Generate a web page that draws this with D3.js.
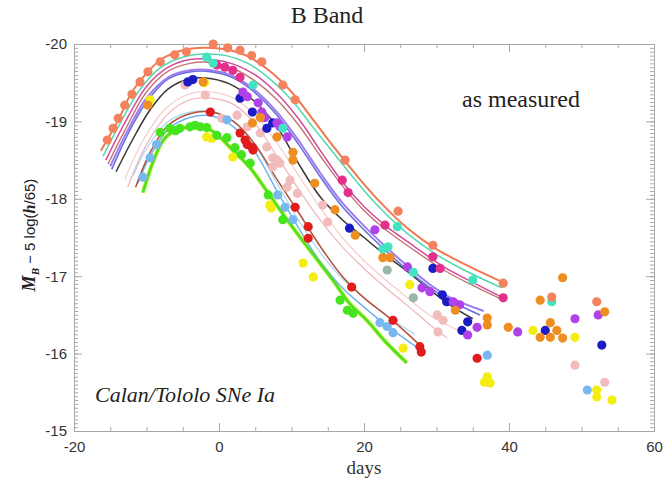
<!DOCTYPE html>
<html><head><meta charset="utf-8">
<script src="https://cdn.jsdelivr.net/npm/d3@7"></script>
<style>body{margin:0;background:#fff}</style>
</head><body><svg id="c" width="665" height="480"></svg>
<script>
// ---------- data ----------
const xTicks = [-20, 0, 20, 40, 60];
const yTicks = [-20, -19, -18, -17, -16, -15];

const curveCoral = [[-16.3,-18.62],[-14,-19.0],[-12,-19.38],[-10,-19.62],[-8,-19.8],[-5,-19.92],[-2,-19.95],[1,-19.93],[4,-19.84],[7,-19.65],[10,-19.38],[13,-19.02],[16,-18.65],[19,-18.3],[22,-17.98],[26,-17.62],[30,-17.35],[34,-17.15],[39.2,-16.92]];
const curveAqua = [[-16,-18.55],[-13.5,-19.0],[-11,-19.4],[-8,-19.7],[-5,-19.83],[-2,-19.87],[1,-19.85],[4,-19.75],[7,-19.55],[10,-19.28],[13,-18.92],[16,-18.57],[19,-18.22],[22,-17.9],[26,-17.55],[30,-17.28],[34,-17.07],[39,-16.85]];
const curveMagenta = [[-15.6,-18.5],[-13,-18.98],[-10,-19.45],[-7,-19.7],[-4,-19.8],[-1,-19.8],[2,-19.74],[5,-19.6],[8,-19.36],[11,-19.03],[14,-18.62],[17,-18.22],[20,-17.9],[23,-17.65],[27,-17.38],[31,-17.12],[35,-16.92],[39.2,-16.72]];
const curveRosy = [[-15.3,-18.45],[-13,-18.88],[-10,-19.38],[-7,-19.65],[-4,-19.75],[-1,-19.76],[2,-19.68],[5,-19.52],[8,-19.28],[11,-18.95],[14,-18.55],[17,-18.17],[20,-17.85],[23,-17.6],[27,-17.33],[31,-17.08],[35,-16.88],[39,-16.7]];
const curveViolet = [[-15,-18.42],[-12.5,-18.9],[-10,-19.3],[-7,-19.57],[-4,-19.66],[-1,-19.66],[2,-19.58],[5,-19.4],[8,-19.12],[11,-18.75],[14,-18.33],[17,-17.95],[20,-17.65],[23,-17.38],[26,-17.13],[29,-16.9],[32,-16.72],[36.5,-16.55]];
const curveBlue = [[-14.8,-18.38],[-12.5,-18.85],[-10,-19.25],[-7,-19.55],[-4,-19.64],[-1,-19.64],[2,-19.56],[5,-19.37],[8,-19.08],[11,-18.7],[14,-18.28],[17,-17.9],[20,-17.6],[23,-17.33],[26,-17.08],[29,-16.86],[32,-16.68],[36,-16.5]];
const curveDark = [[-14.2,-18.35],[-12,-18.75],[-9.5,-19.15],[-7,-19.42],[-4,-19.55],[-1,-19.55],[2,-19.46],[5,-19.25],[8,-18.93],[11,-18.45],[14,-18.02],[17,-17.73],[20,-17.5],[23,-17.27],[26,-17.06],[29,-16.83],[32,-16.62],[35,-16.45]];
const curvePale = [[-13,-18.25],[-10.5,-18.75],[-7.5,-19.15],[-4,-19.36],[-1,-19.38],[2,-19.3],[5,-19.08],[8,-18.72],[11,-18.3],[14,-17.88],[17,-17.5],[20,-17.2],[23,-16.95],[26,-16.72],[29,-16.5],[33,-16.3]];
const curveLightPink = [[-12.6,-18.15],[-10,-18.7],[-7,-19.1],[-4,-19.28],[-1,-19.3],[2,-19.22],[5,-18.97],[8,-18.55],[11,-18.12],[14,-17.72],[17,-17.38],[20,-17.1],[23,-16.85],[26,-16.62],[29,-16.38],[31.5,-16.2]];
const curveBrownRed = [[-11.5,-18.15],[-9.5,-18.6],[-7,-18.95],[-4,-19.1],[-1,-19.12],[2,-19.0],[5,-18.7],[8,-18.25],[11,-17.82],[14,-17.38],[17,-17.0],[20,-16.72],[23,-16.5],[25.5,-16.3],[28,-16.08]];
const curveCyan = [[-11.8,-18.3],[-10,-18.65],[-7,-19.0],[-4,-19.12],[-1,-19.13],[2,-19.0],[5,-18.68],[8,-18.2],[11,-17.72],[14,-17.3],[17,-16.97],[20,-16.72],[23,-16.5],[27,-16.25]];
const curveLightBlue = [[-11.2,-18.2],[-9.5,-18.55],[-7,-18.9],[-4,-19.05],[-1,-19.07],[2,-18.93],[5,-18.6],[8,-18.1],[11,-17.62],[14,-17.18],[17,-16.85],[20,-16.6],[23,-16.37],[27.3,-16.08]];
const curveGreen = [[-10.5,-18.08],[-9,-18.5],[-7.5,-18.78],[-5.5,-18.9],[-3,-18.93],[-1,-18.88],[1.9,-18.63],[4.3,-18.4],[6.6,-18.1],[9,-17.78],[11.2,-17.5],[13.5,-17.22],[15.7,-16.95],[18,-16.65],[20.4,-16.43],[23,-16.15],[25.9,-15.88]];

const dotsCoral = [[-15.4,-18.76],[-14.6,-18.91],[-13.9,-19.04],[-13.0,-19.21],[-12.0,-19.35],[-10.9,-19.51],[-9.8,-19.64],[-8.1,-19.77],[-6.1,-19.86],[-4.5,-19.9],[-0.8,-20.0],[1.2,-19.95],[2.9,-19.92],[4.5,-19.85],[5.9,-19.77],[8.8,-19.47],[10.5,-19.28],[17.4,-18.5],[24.7,-17.84],[29.5,-17.4],[39.2,-16.91],[45.9,-16.73],[52.1,-16.67]];
const dotsOrange = [[-9.8,-19.21],[-2.2,-19.51],[4.6,-18.98],[5.7,-19.05],[8,-18.8],[10.2,-18.6],[10.2,-18.5],[13.2,-18.2],[16,-17.86],[18.8,-17.53],[22.6,-17.24],[23.6,-17.24],[32.6,-16.56],[37,-16.46],[37,-16.37],[39.9,-16.34],[44.3,-16.69],[45.7,-16.4],[46.6,-16.3],[47.4,-16.2],[45.7,-16.21],[44.3,-16.21],[47.4,-16.98],[53.2,-16.54]];
const dotsMagenta = [[-0.3,-19.73],[0.8,-19.7],[1.9,-19.66],[2.9,-19.57],[17,-18.24],[17.8,-18.08],[22.9,-17.66],[29.5,-17.25],[30.5,-17.1],[39.2,-16.72]];
const dotsPurple = [[3.3,-19.38],[3.9,-19.32],[5.4,-19.24],[5.9,-19.12],[6.3,-19.05],[8,-18.98],[8.4,-18.93],[9.4,-18.8],[21.5,-17.6],[26,-17.12],[28,-16.85],[29.1,-16.8],[32.3,-16.67],[33.2,-16.63],[34.3,-16.24],[35.6,-16.34],[41.2,-16.28],[49.1,-16.45],[52.3,-16.5]];
const dotsBlue = [[-4.3,-19.51],[-3.6,-19.54],[2.9,-19.3],[4.6,-19.12],[6.6,-18.91],[7.4,-18.98],[18,-17.62],[29.5,-17.1],[30.8,-16.76],[31.4,-16.67],[34.3,-16.41],[33.5,-16.3],[45,-16.3],[52.8,-16.11]];
const dotsRed = [[-1.2,-19.12],[2.9,-18.85],[3.6,-18.76],[3.9,-18.7],[4.6,-18.66],[4.7,-18.63],[10.5,-17.89],[12.3,-17.64],[12.3,-17.49],[18.3,-16.86],[24,-16.43],[27.7,-16.09],[27.9,-16.02],[35.6,-15.94]];
const dotsGreen = [[-8.1,-18.86],[-6.8,-18.91],[-6,-18.88],[-5.4,-18.91],[-4,-18.93],[-3.3,-18.95],[-2.6,-18.93],[-1.7,-18.92],[-0.3,-18.82],[1.1,-18.79],[2.2,-18.66],[3.1,-18.57],[4.3,-18.46],[6.8,-18.05],[8.8,-17.73],[16.7,-16.69],[17.7,-16.56],[18.5,-16.52]];
const dotsYellow = [[-9.5,-19.28],[-2,-19.5],[-1.7,-18.8],[-1,-18.78],[1.9,-18.54],[7,-17.92],[7.2,-17.88],[11.6,-17.17],[13,-16.99],[25.4,-16.07],[26.3,-16.89],[43.3,-16.3],[49.1,-16.21],[37,-15.7],[37.4,-15.62],[36.6,-15.63],[52.1,-15.53],[52.1,-15.44],[54.2,-15.4]];
const dotsLightBlue = [[-10.5,-18.28],[-9.5,-18.53],[-8.6,-18.7],[1.1,-19.02],[8.1,-18.05],[9.1,-17.89],[10.2,-17.73],[22.2,-16.4],[23.2,-16.35],[24,-16.27],[37,-15.98],[50.8,-15.53]];
const dotsLightPink = [[-4.7,-19.47],[-1.9,-19.34],[0.4,-19.04],[2.5,-19.08],[3.9,-18.93],[5.7,-18.85],[6.6,-18.67],[8,-18.5],[7.4,-18.41],[9.8,-18.24],[9.4,-18.15],[10.8,-18.07],[7.4,-18.53],[8.4,-18.46],[14.3,-17.92],[15,-17.7],[30.1,-16.5],[30.9,-16.43],[30.2,-16.28],[49.1,-15.85],[53.2,-15.63]];
const dotsAqua = [[-1.7,-19.83],[-0.8,-19.75],[4.7,-19.47],[8.8,-18.91],[24.6,-17.64],[22.6,-17.35],[23.3,-17.38],[26.8,-17.05],[35,-16.95],[45.9,-16.67]];
const dotsSage = [[23.2,-17.08],[26.8,-16.72]];

// ---------- styles ----------
const curveStyles = [
  {data: curveLightPink, color: "#f2b4bc", w: 1.2},
  {data: curvePale, color: "#f6cccc", w: 1.2},
  {data: curveCyan, color: "#a6d8f2", w: 1.2},
  {data: curveLightBlue, color: "#74b4ea", w: 1.5},
  {data: curveBrownRed, color: "#b4503c", w: 1.5},
  {data: curveDark, color: "#3a3434", w: 1.5},
  {data: curveBlue, color: "#6a70dc", w: 1.6},
  {data: curveViolet, color: "#9c7cf0", w: 2},
  {data: curveRosy, color: "#c47474", w: 1.4},
  {data: curveMagenta, color: "#d44c98", w: 1.5},
  {data: curveAqua, color: "#52d8ae", w: 1.5},
  {data: curveCoral, color: "#f07a50", w: 2}
];
const dotStyles = [
  {data: dotsLightPink, color: "#f3bcbc"},
  {data: dotsSage, color: "#98b8a8"},
  {data: dotsLightBlue, color: "#78b8f0"},
  {data: dotsYellow, color: "#f4ee10"},
  {data: dotsGreen, color: "#44e41e"},
  {data: dotsRed, color: "#e01c1c"},
  {data: dotsBlue, color: "#1c1cc4"},
  {data: dotsPurple, color: "#b040e8"},
  {data: dotsMagenta, color: "#e4308c"},
  {data: dotsAqua, color: "#40e4c0"},
  {data: dotsOrange, color: "#ee8e20"},
  {data: dotsCoral, color: "#f4825e"}
];

// ---------- drawing ----------
const svg = d3.select("#c");
const L = 74, R = 654, T = 44, B = 431;
const x = d3.scaleLinear().domain([-20, 60]).range([L, R]);
const y = d3.scaleLinear().domain([-20, -15]).range([T, B]);
const axisColor = "#a8a8a8";
const tickFont = "'Liberation Sans', Arial, sans-serif";
const serif = "'Liberation Serif', 'Times New Roman', serif";

function styleAxis(g, labels) {
  g.select(".domain").attr("stroke", axisColor);
  g.selectAll(".tick line").attr("stroke", axisColor);
  g.selectAll(".tick text").attr("fill", labels ? "#333" : "none")
    .style("font-family", tickFont).style("font-size", "15px");
}
// minor ticks
const xMinor = d3.range(-20, 60.01, 5);
const yMinor = d3.range(-20, -14.99, 0.05).map(v => +v.toFixed(2));
svg.append("g").attr("transform", `translate(0,${B})`)
  .call(d3.axisBottom(x).tickValues(xMinor).tickSize(-4).tickFormat("")).call(g => styleAxis(g, false));
svg.append("g").attr("transform", `translate(0,${T})`)
  .call(d3.axisTop(x).tickValues(xMinor).tickSize(-4).tickFormat("")).call(g => styleAxis(g, false));
svg.append("g").attr("transform", `translate(${L},0)`)
  .call(d3.axisLeft(y).tickValues(yMinor).tickSize(-4).tickFormat("")).call(g => styleAxis(g, false));
svg.append("g").attr("transform", `translate(${R},0)`)
  .call(d3.axisRight(y).tickValues(yMinor).tickSize(-4).tickFormat("")).call(g => styleAxis(g, false));
// major ticks
svg.append("g").attr("transform", `translate(0,${B})`)
  .call(d3.axisBottom(x).tickValues(xTicks).tickSize(-8).tickPadding(10).tickFormat(d => String(d)))
  .call(g => styleAxis(g, true));
svg.append("g").attr("transform", `translate(0,${T})`)
  .call(d3.axisTop(x).tickValues(xTicks).tickSize(-8).tickFormat(""))
  .call(g => styleAxis(g, false));
svg.append("g").attr("transform", `translate(${L},0)`)
  .call(d3.axisLeft(y).tickValues(yTicks).tickSize(-8).tickPadding(7).tickFormat(d => String(d)))
  .call(g => styleAxis(g, true));
svg.append("g").attr("transform", `translate(${R},0)`)
  .call(d3.axisRight(y).tickValues(yTicks).tickSize(-8).tickFormat(""))
  .call(g => styleAxis(g, false));

// curves
const line = d3.line().x(d => x(d[0])).y(d => y(d[1])).curve(d3.curveCatmullRom.alpha(0.5));
const cg = svg.append("g");
cg.append("path").attr("d", line(curveGreen)).attr("fill", "none")
  .attr("stroke", "#d4f25a").attr("stroke-width", 4.5);
curveStyles.forEach(s => {
  cg.append("path").attr("d", line(s.data)).attr("fill", "none")
    .attr("stroke", s.color).attr("stroke-width", s.w);
});
cg.append("path").attr("d", line(curveGreen)).attr("fill", "none")
  .attr("stroke", "#4ee024").attr("stroke-width", 2.6);

// dots
const dg = svg.append("g");
dotStyles.forEach(s => {
  dg.selectAll(null).data(s.data).enter().append("circle")
    .attr("cx", d => x(d[0])).attr("cy", d => y(d[1])).attr("r", 4.6)
    .attr("fill", s.color);
});

// texts
svg.append("text").attr("x", 327).attr("y", 23).attr("text-anchor", "middle")
  .style("font-family", serif).style("font-size", "24px").attr("fill", "#222").text("B Band");
svg.append("text").attr("x", 364).attr("y", 474).attr("text-anchor", "middle")
  .style("font-family", serif).style("font-size", "19px").attr("fill", "#333").text("days");
svg.append("text").attr("x", 462).attr("y", 107)
  .style("font-family", serif).style("font-size", "24px").attr("fill", "#222").text("as measured");
svg.append("text").attr("x", 95).attr("y", 402)
  .style("font-family", serif).style("font-style", "italic").style("font-size", "22px").attr("fill", "#222").text("Calan/Tololo SNe Ia");

const yl = svg.append("text").attr("transform", "translate(35,235) rotate(-90)")
  .attr("text-anchor", "middle").attr("fill", "#222")
  .style("font-family", tickFont).style("font-size", "15px");
yl.append("tspan").style("font-family", serif).style("font-weight", "bold").style("font-style", "italic").style("font-size", "18px").text("M");
yl.append("tspan").style("font-family", serif).style("font-weight", "bold").style("font-style", "italic").style("font-size", "11px").attr("dy", 4).text("B");
yl.append("tspan").attr("dy", -4).text(" \u2212 5 log(");
yl.append("tspan").style("font-family", serif).style("font-weight", "bold").style("font-style", "italic").style("font-size", "16px").text("h");
yl.append("tspan").text("/65)");
</script>
</body></html>
